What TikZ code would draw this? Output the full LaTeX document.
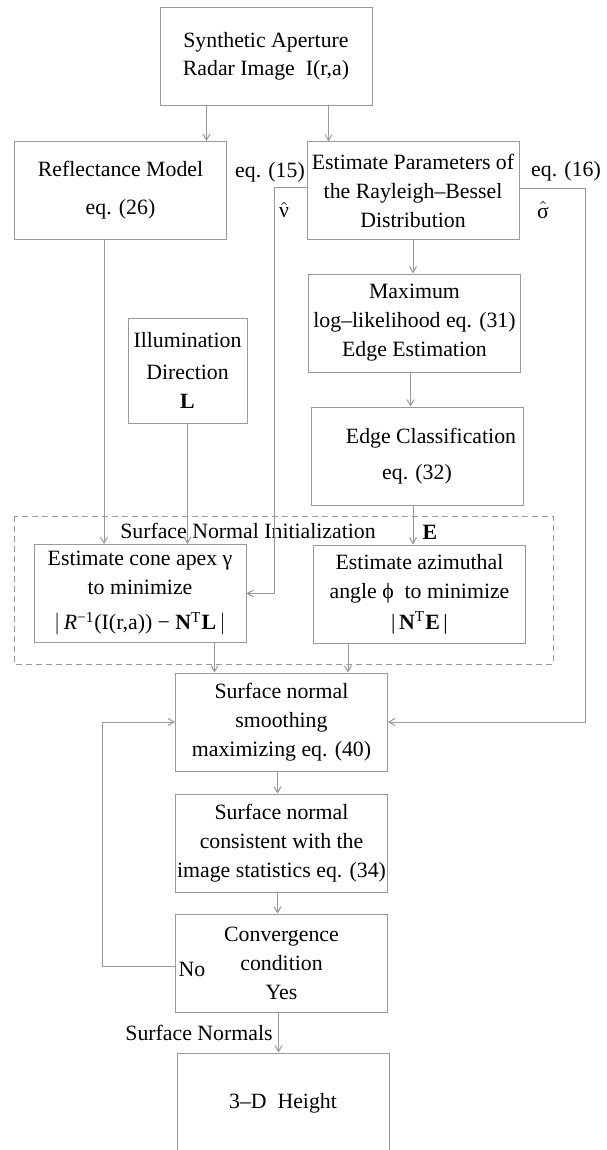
\documentclass[tikz,border=0pt]{standalone}
\usepackage{fontspec}
\setmainfont{Liberation Serif}
\usetikzlibrary{arrows.meta}

\begin{document}
\begin{tikzpicture}[x=0.5pt,y=-0.5pt,
  font=\fontsize{10.9}{14.5}\selectfont,
  box/.style={draw=black!40,line width=0.5pt,align=center,inner sep=0pt,
    minimum width=106pt,minimum height=49pt},
  conn/.style={draw=black!40,line width=0.5pt,-{Straight Barb[length=3pt,width=3.5pt]}},
  initbox/.style={draw=black!40,line width=0.5pt,dash pattern=on 3pt off 2pt}]
\useasboundingbox (0,0) rectangle (606,1150);

% input and parameter estimation
\node[box] (sar) at (266,56.5) {Synthetic Aperture\\[-0.5pt]Radar Image\ \ I(r,a)};
\node[box] (refl) at (120.5,190.5) {Reflectance Model\\[4.5pt]eq. (26)};
\node[box] (est) at (413,191) {Estimate Parameters of\\the Rayleigh–Bessel\\Distribution};
\node[box] (maxl) at (414.5,323) {Maximum\\log–likelihood eq. (31)\\Edge Estimation};
\node[box,minimum width=59.5pt,minimum height=52.5pt] (illum) at (187.5,370.5)
  {Illumination\\[1.5pt]Direction\\\textbf{L}};
\node[box] (edgec) at (417,456) {\hspace*{14pt}Edge Classification\\[3.5pt]eq. (32)};

% surface normal initialization
\draw[initbox] (14,516) rectangle (553,664);
\node (initlbl) at (248,531) {Surface Normal Initialization};
\node (elbl) at (430,532) {\textbf{E}};
\node[box] (cone) at (140,593.5)
  {Estimate cone apex γ\\to minimize\\[3pt]$\big|$\,{\itshape R}\textsuperscript{−1}(I(r,a)) − \textbf{N}\textsuperscript{T}\textbf{L}\,$\big|$};
\node[box] (azim) at (419.5,594)
  {Estimate azimuthal\\angle ϕ\ \ to minimize\\[1pt]|\,\textbf{N}\textsuperscript{T}\textbf{E}\,|};

% smoothing loop
\node[box] (smooth) at (281.5,722) {Surface normal\\smoothing\\maximizing eq. (40)};
\node[box] (consist) at (281.5,843) {Surface normal\\consistent with the\\image statistics eq. (34)};
\node[box] (conv) at (281.5,963) {Convergence\\condition\\Yes};
\node[box,minimum height=50pt] (height) at (283,1103) {3–D\ \ Height};

% labels
\node (eq15) at (270,172) {eq. (15)};
\node (nuhat) at (284,210) {$\hat{\hbox{ν}}$};
\node (eq16) at (566,171) {eq. (16)};
\node (sighat) at (543,210) {$\hat{\hbox{σ}}$};
\node (nolbl) at (192,969) {No};
\node (snlbl) at (199,1033) {Surface Normals};

\coordinate (nux) at (274,0);
\coordinate (sigx) at (585,0);
\coordinate (loopx) at (102,0);

% connectors
\draw[conn] ([xshift=23.5pt]sar.south west) -- ([xshift=23.5pt]sar.south west |- refl.north);
\draw[conn] ([xshift=84.5pt]sar.south west) -- ([xshift=84.5pt]sar.south west |- est.north);
\draw[conn] (est.south) -- (est.south |- maxl.north);
\draw[conn] ([xshift=-2pt]maxl.south) -- ([xshift=-2pt]maxl.south |- edgec.north);
\draw[conn] ([xshift=-2pt]edgec.south) -- ([xshift=-2pt]edgec.south |- azim.north);
\draw[conn] ([xshift=45pt]refl.south west) -- ([xshift=45pt]refl.south west |- cone.north);
\draw[conn] (illum.south) -- (illum.south |- cone.north);
\draw[conn] ([yshift=1.5pt]est.west) -| (nux |- cone.east) -- (cone.east);
\draw[conn] ([yshift=1pt]est.east) -| (sigx |- smooth.east) -- (smooth.east);
\draw[conn] ([xshift=90.5pt]cone.south west) -- ([xshift=90.5pt]cone.south west |- smooth.north);
\draw[conn] ([xshift=17.5pt]azim.south west) -- ([xshift=17.5pt]azim.south west |- smooth.north);
\draw[conn] ([xshift=-2pt]smooth.south) -- ([xshift=-2pt]smooth.south |- consist.north);
\draw[conn] ([xshift=-2pt]consist.south) -- ([xshift=-2pt]consist.south |- conv.north);
\draw[conn] ([xshift=-1.5pt]conv.south) -- ([xshift=-1.5pt]conv.south |- height.north);
\draw[conn] ([yshift=-1.5pt]conv.west) -| (loopx |- smooth.west) -- (smooth.west);
\end{tikzpicture}
\end{document}
